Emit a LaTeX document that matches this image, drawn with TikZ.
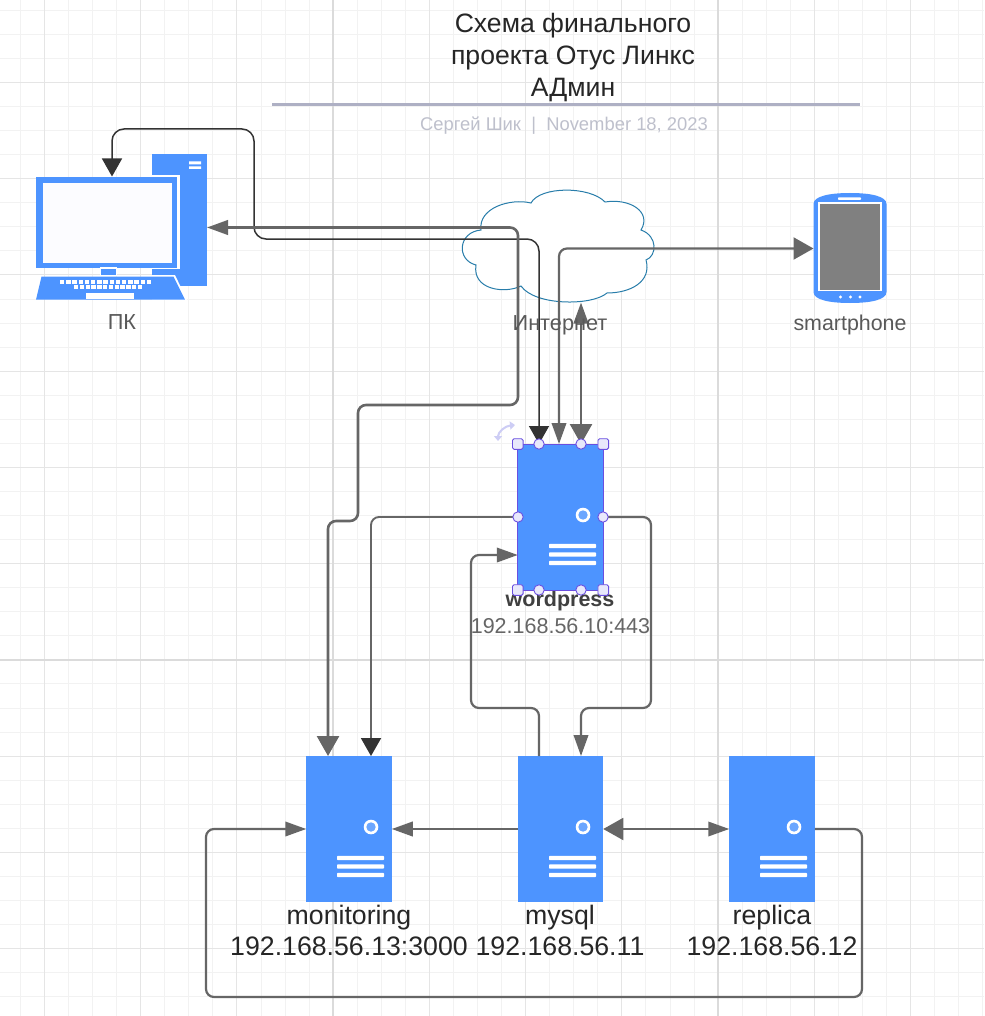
\documentclass[tikz,border=0pt]{standalone}
\usepackage{fontspec}
\setmainfont{Liberation Sans}
\usetikzlibrary{arrows.meta,calc}
\definecolor{srvblue}{HTML}{4D94FF}
\definecolor{srvdot}{HTML}{6BA6FF}
\definecolor{conn}{HTML}{666666}
\definecolor{connd}{HTML}{333333}
\definecolor{hand}{HTML}{6A4FE0}
\definecolor{handf}{HTML}{E8E8FB}
\tikzset{
  x=1pt,y=-1pt,
  minorg/.style={draw=black!5,line width=1pt},
  majorg/.style={draw=black!10,line width=1pt},
  topg/.style={draw=black!14,line width=1.2pt},
  server/.style={rectangle,fill=srvblue,minimum width=85.5pt,minimum height=146pt,inner sep=0pt,outer sep=0pt},
  thickc/.style={draw=conn,line width=2.6pt,rounded corners=8pt},
  midc/.style={draw=conn,line width=2.2pt,rounded corners=8pt},
  thinc/.style={draw=connd,line width=1.5pt,rounded corners=12pt},
  hbig/.tip={Triangle[length=20pt,width=22pt,color=conn]},
  hsmall/.tip={Triangle[length=21pt,width=14.5pt,color=conn]},
  hdark/.tip={Triangle[length=18pt,width=20pt,color=connd]},
  lab/.style={inner sep=0pt,outer sep=0pt,align=center},
  sq/.style={draw=hand,fill=handf,line width=.9pt,rounded corners=1.5pt},
  hdl/.style={draw=hand,fill=handf,line width=.9pt},
}
\newcommand{\srvdetail}[2]{%
  \fill[white] (#1+65,#2+71) circle[radius=7.3];
  \fill[srvdot] (#1+65,#2+71) circle[radius=4.7];
  \foreach \yy in {102,110.5,119} {\fill[white,rounded corners=.8pt] (#1+31,#2+\yy-2.2) rectangle (#1+78,#2+\yy+2.2);}
}
\begin{document}
\begin{tikzpicture}
\useasboundingbox (0,0) rectangle (984,1016);
\fill[white] (0,0) rectangle (984,1016);
% grid
\foreach \k in {0,...,40} {
  \pgfmathsetmacro\gx{20.4+24.06*\k}
  \draw[minorg] (\gx,0) -- (\gx,1016);
}
\foreach \k in {0,...,42} {
  \pgfmathsetmacro\gy{10.3+24.06*\k}
  \draw[minorg] (0,\gy) -- (984,\gy);
}
\foreach \k in {0,...,10} {
  \pgfmathsetmacro\gx{44.3+96.25*\k}
  \draw[majorg] (\gx,0) -- (\gx,1016);
  \pgfmathsetmacro\gy{82.3+96.25*\k}
  \draw[majorg] (0,\gy) -- (984,\gy);
}
\draw[topg] (333,0) -- (333,1016) (718,0) -- (718,1016) (0,660) -- (984,660);
% title
\node[lab,font=\fontsize{26.6}{32}\selectfont,text=black!85] (title) at (573,58) {Схема финального\\проекта Отус Линкс\\АДмин};
\coordinate (ruleL) at (272,104.5);
\coordinate (ruleR) at (860,104.5);
\draw[draw={rgb,255:red,174;green,176;blue,196},line width=2.4pt] (ruleL) -- (ruleR);
\node[lab,font=\fontsize{18.4}{22}\selectfont,text={rgb,255:red,190;green,192;blue,204}] (sub) at (564,126) {Сергей Шик\ \ |\ \ November 18, 2023};
% cloud
\path[fill=white,draw={rgb,255:red,40;green,125;blue,170},line width=1pt] (531,203)
  .. controls (540,186) and (590,186) .. (605,202)
  .. controls (630,198) and (652,212) .. (641,230)
  .. controls (658,236) and (657,256) .. (646,260)
  .. controls (652,282) and (630,293) .. (607,293)
  .. controls (592,306) and (535,306) .. (521,286)
  .. controls (505,294) and (472,290) .. (476,265)
  .. controls (456,260) and (458,232) .. (481,230)
  .. controls (478,208) and (510,198) .. (531,203) -- cycle;
\node[inner sep=0pt,minimum width=190pt,minimum height=110pt] (cloud) at (559,247) {};
% servers
\node[server] (wp) at (560.5,517) {};
\node[server] (mon) at (349,829) {};
\node[server] (my) at (560.5,829) {};
\node[server] (rep) at (772,829) {};
\srvdetail{518}{444}
\srvdetail{306}{756}
\srvdetail{518}{756}
\srvdetail{729}{756}
% PC icon
\node[rectangle,inner sep=0pt,outer sep=0pt,minimum width=171pt,minimum height=145pt] (pc) at (121.5,227.5) {};
\node[rectangle,inner sep=0pt,outer sep=0pt,minimum width=152pt,minimum height=91pt] (pcscreen) at (112,222) {};
\fill[srvblue] (152,154.5) rectangle (207,285.5);
\fill[white] (189,161.3) rectangle (201,164.3) (189,166.3) rectangle (201,169);
\fill[white] (152,175) rectangle (180,268.5);
\fill[white] (152,275) -- (175,275) -- (187,300) -- (152,300) -- cycle;
\fill[srvblue] (36,176.7) rectangle (176.5,267.7);
\fill[srvblue] (152,268.7) rectangle (180,274);
\fill[white] (100,266.5) rectangle (116.5,276);
\fill[srvblue] (101,269) rectangle (115.5,275);
\fill[white] (176.5,175) rectangle (180,268.5);
\fill[black!1.5!blue!1!white] (43,182.7) rectangle (172,262.7);
\fill[srvblue] (41.5,276.7) -- (173.5,276.7) -- (185,299.7) -- (36,299.7) -- cycle;
\foreach \k in {0,...,14} {\fill[white] (60+\k*6.2,280) rectangle (64.4+\k*6.2,284.2);}
\foreach \k in {0,...,11} {\fill[white] (74+\k*5.8,285.2) rectangle (78.3+\k*5.8,289.4);}
\fill[white] (86,293) rectangle (134,298.8);
% phone
\node[rectangle,inner sep=0pt,outer sep=0pt,minimum width=73pt,minimum height=110pt] (phone) at (850,248.5) {};
\fill[srvblue] (813.5,204) .. controls (813.5,196) and (830,193) .. (850,193) .. controls (870,193) and (886.5,196) .. (886.5,204)
  -- (886.5,292) .. controls (886.5,300) and (870,303) .. (850,303) .. controls (830,303) and (813.5,300) .. (813.5,292) -- cycle;
\fill[white] (818,202) rectangle (881.7,291);
\fill[black!50] (820,204) rectangle (880,289.5);
\fill[white,rounded corners=.7pt] (838,197.5) rectangle (861,199.8);
\fill[white] (840.5,297) circle[radius=1.7] (850.5,297) circle[radius=1.7] (860,297) circle[radius=1.7];
% connectors
\draw[thinc,{hdark}-{hdark}] ([xshift=-21.5pt]wp.north) -- (539,239) -- (254,239) -- (254,129) -- (112,129) -- (pcscreen.north);
\draw[thickc,{hsmall}-{hbig}] (pc.east) -- (518,227.5) -- (518,405) -- (358,405) -- (358,521) -- (328,521) -- ([xshift=-21pt]mon.north);
\draw[midc,{hsmall}-{hbig}] ([xshift=-1.5pt]wp.north) -- (559,248.5) -- (phone.west);
\draw[thickc,{hsmall}-{hbig}] (581,302.5) -- ([xshift=20.5pt]wp.north);
\draw[midc,line width=1.9pt,-{hdark}] (wp.west) -- (371,517) -- ([xshift=22pt]mon.north);
\draw[midc,-{hsmall}] (wp.east) -- (651,517) -- (651,708) -- (581,708) -- ([xshift=20.5pt]my.north);
\draw[midc,-{hsmall}] ([xshift=-21.5pt]my.north) -- (539,708) -- (471,708) -- (471,555) -- ([yshift=-38pt]wp.west);
\draw[midc,-{hsmall}] (my.west) -- (mon.east);
\draw[midc,line width=1.9pt,{hbig}-{hsmall}] (my.east) -- (rep.west);
\draw[midc,-{hsmall}] (rep.east) -- (862,829) -- (862,997) -- (206,997) -- (206,829) -- (mon.west);
% labels
\node[lab,font=\fontsize{21.7}{24}\selectfont,text=black!65] (lpc) at (122,322) {ПК};
\node[lab,font=\fontsize{21.7}{24}\selectfont,text=black!65] (lnet) at (560,325) {Интернет};
\node[lab,font=\fontsize{21.4}{24}\selectfont,text=black!65] (lph) at (850,325) {smartphone};
\node[lab,font=\fontsize{21.5}{25}\selectfont,text=black!75] (l1) at (560,601) {\textbf{wordpress}};
\node[lab,font=\fontsize{21.5}{25}\selectfont,text=black!60] (l2) at (560.5,626) {192.168.56.10:443};
\node[lab,font=\fontsize{26.7}{31.5}\selectfont,text=black!85] (l3) at (349,930.5) {monitoring\\192.168.56.13:3000};
\node[lab,font=\fontsize{26.7}{31.5}\selectfont,text=black!85] (l4) at (560,930.5) {mysql\\192.168.56.11};
\node[lab,font=\fontsize{26.7}{31.5}\selectfont,text=black!85] (l5) at (772,930.5) {replica\\192.168.56.12};
% selection
\draw[hand,line width=1pt] (wp.north west) rectangle (wp.south east);
\foreach \p in {wp.north west,wp.north east,wp.south west,wp.south east} {
  \draw[sq] ($(\p)+(-5.3,-5.3)$) rectangle ($(\p)+(5.3,5.3)$);
}
\foreach \dx/\dy in {-21.5/-73,20.5/-73,-42.5/0,42.5/0,-21.5/73,20.5/73} {
  \draw[hdl] ($(wp.center)+(\dx,\dy)$) circle[radius=5.2];
}
\draw[draw={rgb,255:red,205;green,205;blue,245},line width=2pt,{Triangle[length=5pt,width=8pt,color={rgb,255:red,205;green,205;blue,245}]}-{Triangle[length=5pt,width=8pt,color={rgb,255:red,205;green,205;blue,245}]}] (498,441) .. controls (498,432) and (505,426) .. (515,425);
\end{tikzpicture}
\end{document}
